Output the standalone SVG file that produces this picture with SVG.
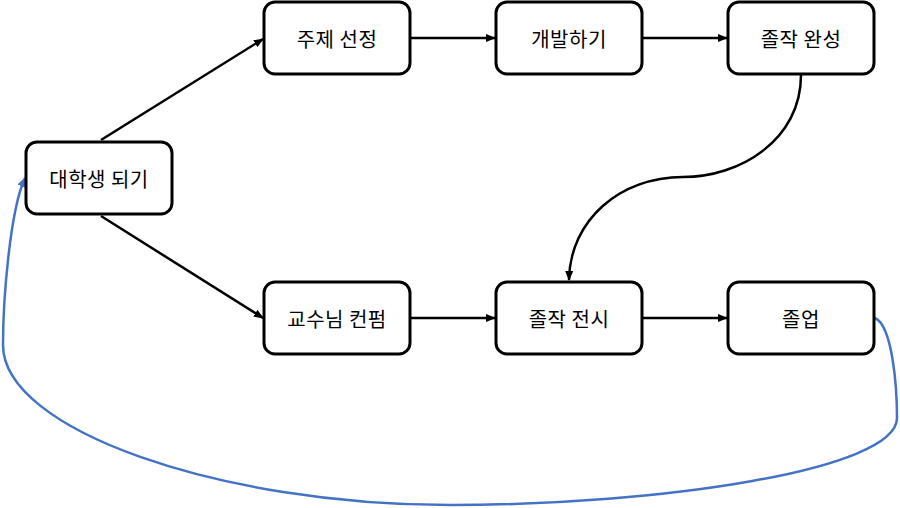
<svg xmlns="http://www.w3.org/2000/svg" width="900" height="508" viewBox="0 0 900 508">
<style>
.box{fill:#fff;stroke:#000;stroke-width:3}
.lbl{font-family:"Noto Sans CJK KR","Noto Sans",sans-serif;font-size:20px;letter-spacing:0.5px;fill:#000;text-anchor:middle;dominant-baseline:central}
.conn{fill:none;stroke:#000;stroke-width:2.5}
.blue{fill:none;stroke:#4472C4;stroke-width:2.5}
</style>
<defs>
<marker id="ah" markerWidth="10" markerHeight="8" refX="9" refY="4" orient="auto" markerUnits="userSpaceOnUse"><path d="M0,0 L10,4 L0,8 Z" fill="#000"/></marker>
<marker id="ahb" markerWidth="10" markerHeight="8" refX="9" refY="4" orient="auto" markerUnits="userSpaceOnUse"><path d="M0,0 L10,4 L0,8 Z" fill="#4472C4"/></marker>
</defs>
<g id="connectors">
<line class="conn" x1="101" y1="140" x2="263" y2="39" marker-end="url(#ah)"/>
<line class="conn" x1="101" y1="216" x2="263" y2="318" marker-end="url(#ah)"/>
<line class="conn" x1="410" y1="38" x2="495" y2="38" marker-end="url(#ah)"/>
<line class="conn" x1="642" y1="38" x2="727" y2="38" marker-end="url(#ah)"/>
<line class="conn" x1="410" y1="318" x2="495" y2="318" marker-end="url(#ah)"/>
<line class="conn" x1="642" y1="318" x2="727" y2="318" marker-end="url(#ah)"/>
<path class="conn" d="M801,75 C801,140 740,177 683,177 C620,177 570,220 569,280" marker-end="url(#ah)"/>
<path class="blue" d="M875,318 C893,326 897,390 897,418 C897,470 660,505 450,505 C220,505 3,430 3,345 C3,300 10,210 25,178" marker-end="url(#ahb)"/>
</g>
<g id="n1"><rect class="box" x="26" y="142" width="146" height="72" rx="11"/><text class="lbl" x="99" y="178">대학생 되기</text></g>
<g id="n2"><rect class="box" x="264" y="2" width="146" height="72" rx="11"/><text class="lbl" x="337" y="38">주제 선정</text></g>
<g id="n3"><rect class="box" x="496" y="2" width="146" height="72" rx="11"/><text class="lbl" x="569" y="38">개발하기</text></g>
<g id="n4"><rect class="box" x="728" y="2" width="146" height="72" rx="11"/><text class="lbl" x="801" y="38">졸작 완성</text></g>
<g id="n5"><rect class="box" x="264" y="282" width="146" height="72" rx="11"/><text class="lbl" x="337" y="318">교수님 컨펌</text></g>
<g id="n6"><rect class="box" x="496" y="282" width="146" height="72" rx="11"/><text class="lbl" x="569" y="318">졸작 전시</text></g>
<g id="n7"><rect class="box" x="728" y="282" width="146" height="72" rx="11"/><text class="lbl" x="801" y="318">졸업</text></g>
</svg>
